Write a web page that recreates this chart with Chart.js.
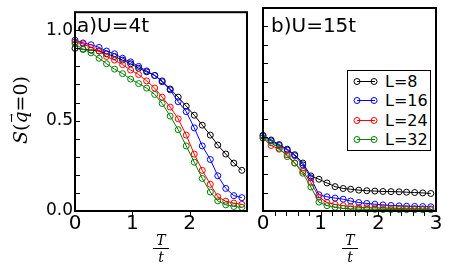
<!DOCTYPE html>
<html><head><meta charset="utf-8">
<script src="https://cdn.jsdelivr.net/npm/chart.js@4/dist/chart.umd.min.js"></script>
<style>
html,body{margin:0;padding:0;background:#fff;}
#wrap{position:relative;width:452px;height:273px;overflow:hidden;font-family:"DejaVu Sans";color:#000;}
canvas{position:absolute;top:0;}
#cA{left:0;}
#cB{left:252px;}
.ptitle{position:absolute;font-size:20px;line-height:20px;white-space:nowrap;}
.frac{position:absolute;top:233px;width:20px;font-family:"DejaVu Serif";font-style:italic;font-size:14px;line-height:14px;text-align:center;}
.frac .bar{height:1px;background:#000;margin:1px 2px 1px 2px;}
#ytitle{position:absolute;left:-25px;top:99px;width:90px;height:22px;line-height:22px;text-align:center;transform:rotate(-90deg);font-family:"DejaVu Serif";font-size:19px;white-space:nowrap;}
#ytitle .q{position:relative;font-style:italic;}
#ytitle .arr{position:absolute;left:1px;top:-8px;font-size:11px;font-style:normal;}
#legend{position:absolute;left:347px;top:70px;width:82px;height:79px;border:1.5px solid #000;background:#fff;}
#legend .row{position:absolute;left:0;height:19px;line-height:19px;font-size:16px;white-space:nowrap;}
#legend svg{position:absolute;left:5px;top:4px;}
#legend span{position:absolute;left:37px;top:0;}
</style></head>
<body>
<div id="wrap">
<canvas id="cA" width="252" height="273"></canvas>
<canvas id="cB" width="200" height="273"></canvas>
<div class="ptitle" id="tA" style="left:77px;top:15px;"></div>
<div class="ptitle" id="tB" style="left:271px;top:15px;"></div>
<div id="ytitle"><i>S</i>(<span class="q">q<span class="arr">&#8594;</span></span>=0)</div>
<div class="frac" style="left:151px;"><div>T</div><div class="bar"></div><div>t</div></div>
<div class="frac" style="left:340px;"><div>T</div><div class="bar"></div><div>t</div></div>
<div id="legend"></div>
</div>
<script>
// ---- data ----
const panelTitles = ['a)U=4t', 'b)U=15t'];
const seriesLabels = ['L=8', 'L=16', 'L=24', 'L=32'];
const seriesColors = ['#000000', '#0000ff', '#ff0000', '#008000'];
const T = [0, 0.14, 0.28, 0.42, 0.55, 0.69, 0.83, 0.97, 1.11, 1.25, 1.39, 1.52, 1.66, 1.80, 1.94, 2.08, 2.22, 2.36, 2.49, 2.63, 2.77, 2.91];
// panel a) U=4t
const a_L8  = [0.90, 0.895, 0.89, 0.885, 0.87, 0.855, 0.835, 0.815, 0.79, 0.77, 0.75, 0.72, 0.675, 0.63, 0.58, 0.53, 0.475, 0.42, 0.365, 0.315, 0.265, 0.225];
const a_L16 = [0.945, 0.93, 0.92, 0.905, 0.885, 0.87, 0.845, 0.825, 0.80, 0.775, 0.75, 0.715, 0.67, 0.605, 0.55, 0.46, 0.36, 0.285, 0.195, 0.125, 0.085, 0.074];
const a_L24 = [0.935, 0.925, 0.905, 0.885, 0.855, 0.835, 0.81, 0.78, 0.755, 0.72, 0.68, 0.63, 0.575, 0.51, 0.42, 0.315, 0.225, 0.148, 0.079, 0.054, 0.044, 0.037];
const a_L32 = [0.925, 0.895, 0.875, 0.845, 0.815, 0.785, 0.76, 0.73, 0.705, 0.68, 0.645, 0.595, 0.525, 0.45, 0.36, 0.27, 0.18, 0.105, 0.056, 0.034, 0.025, 0.02];
// panel b) U=15t
const b_L8  = [0.41, 0.385, 0.36, 0.335, 0.305, 0.26, 0.19, 0.172, 0.152, 0.132, 0.122, 0.118, 0.113, 0.11, 0.108, 0.106, 0.105, 0.104, 0.102, 0.10, 0.098, 0.095];
const b_L16 = [0.405, 0.38, 0.355, 0.33, 0.30, 0.25, 0.18, 0.088, 0.077, 0.07, 0.064, 0.054, 0.046, 0.041, 0.037, 0.033, 0.03, 0.028, 0.026, 0.025, 0.024, 0.023];
const b_L24 = [0.395, 0.355, 0.335, 0.305, 0.26, 0.215, 0.155, 0.075, 0.046, 0.036, 0.029, 0.024, 0.02, 0.018, 0.017, 0.016, 0.015, 0.014, 0.013, 0.013, 0.012, 0.012];
const b_L32 = [0.395, 0.37, 0.34, 0.295, 0.26, 0.205, 0.13, 0.048, 0.029, 0.02, 0.014, 0.012, 0.01, 0.009, 0.009, 0.008, 0.008, 0.008, 0.007, 0.007, 0.007, 0.007];
// ticks
const yLabelTicks = [0, 0.5, 1.0];
const yMinorTicks = [0.1, 0.2, 0.3, 0.4, 0.5, 0.6, 0.7, 0.8, 0.9, 1.0];
const xLabelTicksA = [0, 1, 2];
const xLabelTicksB = [0, 1, 2, 3];
const xMinorTicksA = [1, 2];
const xMinorTicksB = [0.2, 0.4, 0.6, 0.8, 1.0, 1.2, 1.4, 1.6, 1.8, 2.0, 2.2, 2.4, 2.6, 2.8];

// ---- helpers ----
function makeDatasets(arrs) {
  return arrs.map((arr, k) => ({
    label: seriesLabels[k],
    data: arr.map((v, i) => ({x: T[i], y: v})),
    borderColor: seriesColors[k],
    backgroundColor: 'rgba(0,0,0,0)',
    pointBorderColor: seriesColors[k],
    pointBackgroundColor: 'rgba(0,0,0,0)',
    borderWidth: 1,
    pointRadius: 3,
    pointBorderWidth: 1,
    tension: 0,
    clip: false,
    order: 4 - k
  }));
}

const framePlugin = {
  id: 'frame',
  afterDatasetsDraw(chart, args, opts) {
    const {ctx, chartArea: a, scales} = chart;
    ctx.save();
    ctx.strokeStyle = '#000';
    ctx.lineWidth = 1;
    opts.yTicks.forEach(v => {
      const y = Math.round(scales.y.getPixelForValue(v)) + 0.5;
      ctx.beginPath(); ctx.moveTo(a.left, y); ctx.lineTo(a.left + 5, y); ctx.stroke();
    });
    opts.xTicks.forEach(v => {
      const x = Math.round(scales.x.getPixelForValue(v)) + 0.5;
      ctx.beginPath(); ctx.moveTo(x, a.bottom); ctx.lineTo(x, a.bottom + 5); ctx.stroke();
    });
    ctx.lineWidth = 2;
    ctx.strokeRect(a.left, a.top, a.right - a.left, a.bottom - a.top);
    ctx.restore();
  }
};

function makeChart(id, arrs, cfg) {
  return new Chart(document.getElementById(id), {
    type: 'line',
    data: {datasets: makeDatasets(arrs)},
    plugins: [framePlugin],
    options: {
      responsive: false,
      animation: false,
      events: [],
      layout: {padding: cfg.padding},
      plugins: {
        legend: {display: false},
        tooltip: {enabled: false},
        frame: {yTicks: yMinorTicks, xTicks: cfg.xMinor}
      },
      scales: {
        x: {
          type: 'linear', min: 0, max: 3,
          grid: {display: false, drawTicks: false},
          border: {display: false},
          afterBuildTicks: s => { s.ticks = cfg.xLabels.map(v => ({value: v})); },
          ticks: {
            autoSkip: false, maxRotation: 0, padding: 1, color: '#000',
            font: {family: 'DejaVu Sans', size: 20},
            callback: v => String(v)
          },
          afterFit: s => { s.height = 62; }
        },
        y: {
          type: 'linear', min: 0, max: 1.1,
          grid: {display: false, drawTicks: false},
          border: {display: false},
          afterBuildTicks: s => { s.ticks = yLabelTicks.map(v => ({value: v})); },
          ticks: {
            display: cfg.yLabels, padding: 2, color: '#000',
            font: {family: 'DejaVu Sans', size: 17},
            callback: v => v.toFixed(1)
          },
          afterFit: s => { s.width = cfg.yWidth; }
        }
      }
    }
  });
}

makeChart('cA', [a_L8, a_L16, a_L24, a_L32], {
  padding: {top: 8, right: 4, left: 0, bottom: 0},
  yWidth: 75, yLabels: true, xLabels: xLabelTicksA, xMinor: xMinorTicksA
});
makeChart('cB', [b_L8, b_L16, b_L24, b_L32], {
  padding: {top: 8, right: 16, left: 0, bottom: 0},
  yWidth: 11, yLabels: false, xLabels: xLabelTicksB, xMinor: xMinorTicksB
});

document.getElementById('tA').textContent = panelTitles[0];
document.getElementById('tB').textContent = panelTitles[1];

// legend
const leg = document.getElementById('legend');
seriesLabels.forEach((lab, k) => {
  const row = document.createElement('div');
  row.className = 'row';
  row.style.top = (1 + k * 19.3) + 'px';
  const c = seriesColors[k];
  row.innerHTML = '<svg width="26" height="11" viewBox="0 0 26 11">' +
    '<line x1="4" y1="5.5" x2="22" y2="5.5" stroke="' + c + '" stroke-width="1"/>' +
    '<circle cx="4" cy="5.5" r="3" fill="none" stroke="' + c + '" stroke-width="1"/>' +
    '<circle cx="21" cy="5.5" r="3" fill="none" stroke="' + c + '" stroke-width="1"/></svg>' +
    '<span></span>';
  row.querySelector('span').textContent = lab;
  leg.appendChild(row);
});
</script>
</body></html>
